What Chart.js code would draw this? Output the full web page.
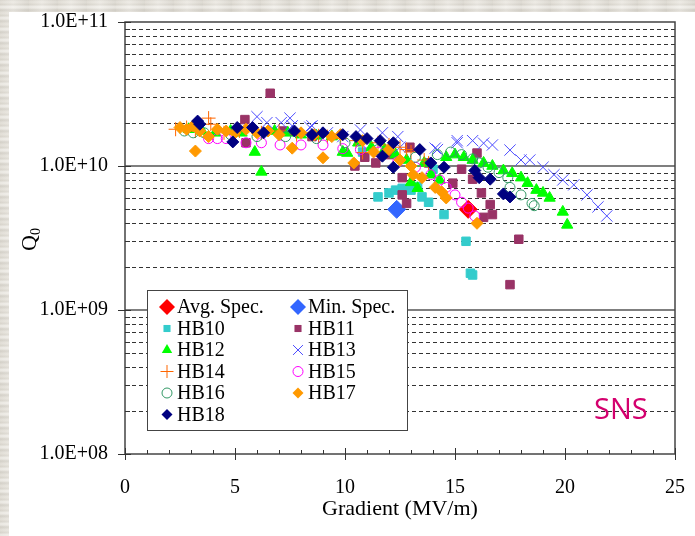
<!DOCTYPE html>
<html><head><meta charset="utf-8">
<script src="https://cdn.jsdelivr.net/npm/chart.js@4.4.0/dist/chart.umd.min.js"></script>
<style>
html,body{margin:0;padding:0;width:695px;height:536px;overflow:hidden;}
body{background:#e6e2d9;
background-image:
 repeating-linear-gradient(0deg, rgba(255,255,255,0.35) 0px, rgba(255,255,255,0.35) 2px, rgba(0,0,0,0.04) 3px, rgba(255,255,255,0.15) 6px, rgba(0,0,0,0.06) 9px, rgba(255,255,255,0.3) 11px),
 repeating-linear-gradient(90deg, rgba(0,0,0,0.03) 0px, rgba(255,255,255,0.25) 13px, rgba(0,0,0,0.05) 29px);}
#panel{position:absolute;left:9px;top:12px;right:0;bottom:0;background:#fff;}
#c{position:absolute;left:0;top:0;}
</style></head>
<body><div id="panel"></div><canvas id="c" width="695" height="536"></canvas>
<script>
// ---------- DATA (Gradient MV/m, Q0) ----------
const avgSpec = [[15.6, 5.0e9]];
const minSpec = [[12.35, 5.0e9]];
const hb10 = [[10.8,1.25e10],[11.5,6.1e9],[12.0,6.5e9],[12.3,6.8e9],[12.6,7.0e9],[13.0,6.8e9],[13.3,7.2e9],[13.5,6.1e9],[13.8,5.6e9],[14.0,9.5e9],[14.5,4.6e9],[15.5,3.0e9],[15.7,1.8e9],[15.8,1.75e9]];
const hb11 = [[5.45,2.1e10],[5.5,1.45e10],[6.6,3.2e10],[7.2,1.75e10],[8.5,1.6e10],[10.45,1.0e10],[10.9,1.15e10],[11.4,1.05e10],[12.0,1.2e10],[12.6,8.3e9],[12.6,6.3e9],[12.8,5.5e9],[12.95,1.35e10],[13.8,1.05e10],[14.9,7.6e9],[15.3,9.5e9],[15.8,8.1e9],[16.0,1.23e10],[16.2,6.5e9],[16.6,5.4e9],[16.7,4.6e9],[16.3,4.4e9],[17.9,3.1e9],[17.5,1.5e9]];
const hb12 = [[2.9,1.8e10],[3.5,1.75e10],[4.1,1.7e10],[4.8,1.75e10],[5.3,1.7e10],[5.9,1.25e10],[6.2,9.1e9],[6.8,1.75e10],[7.4,1.7e10],[8.0,1.65e10],[8.7,1.62e10],[9.4,1.6e10],[9.9,1.25e10],[10.1,1.23e10],[10.6,1.45e10],[11.2,1.35e10],[11.8,1.3e10],[12.3,1.2e10],[12.8,1.1e10],[13.0,7.7e9],[13.3,7.0e9],[13.6,1.05e10],[13.9,8.7e9],[14.3,8.0e9],[14.6,1.15e10],[15.0,1.2e10],[15.4,1.15e10],[15.8,1.1e10],[16.3,1.05e10],[16.7,1.0e10],[17.2,9.3e9],[17.6,8.9e9],[18.0,8.3e9],[18.3,7.6e9],[18.7,6.8e9],[19.0,6.5e9],[19.3,6.0e9],[19.9,4.8e9],[20.1,3.9e9]];
const hb13 = [[6.0,2.2e10],[6.45,2.0e10],[7.1,2.0e10],[7.5,2.15e10],[7.6,1.9e10],[8.4,1.86e10],[8.5,1.9e10],[9.2,1.7e10],[9.9,1.6e10],[10.7,1.78e10],[11.7,1.7e10],[12.4,1.6e10],[12.5,1.35e10],[14.1,1.33e10],[14.2,1.3e10],[15.1,1.5e10],[15.1,1.45e10],[15.8,1.5e10],[16.3,1.44e10],[16.7,1.4e10],[17.5,1.29e10],[18.0,1.1e10],[18.4,1.1e10],[19.0,9.8e9],[19.5,8.7e9],[19.9,8.0e9],[20.4,7.4e9],[21.0,6.3e9],[21.5,5.2e9],[21.9,4.5e9]];
const hb14 = [[2.3,1.8e10],[2.8,1.85e10],[3.2,1.75e10],[3.8,2.15e10],[3.9,1.95e10],[4.5,1.7e10],[5.2,1.75e10],[6.2,1.7e10],[7.0,1.75e10],[7.8,1.65e10],[8.8,1.62e10],[9.2,1.6e10],[9.8,1.55e10],[10.5,1.5e10],[10.8,1.24e10],[11.5,1.45e10],[12.0,1.4e10],[12.5,1.35e10],[12.8,1.3e10],[13.0,1.25e10],[13.6,1.1e10],[13.8,1.05e10]];
const hb15 = [[3.8,1.55e10],[4.2,1.55e10],[4.6,1.55e10],[5.5,1.45e10],[6.2,1.45e10],[7.05,1.4e10],[8.0,1.4e10],[9.0,1.4e10],[9.9,1.32e10],[10.7,1.3e10],[11.5,1.25e10],[12.4,1.07e10],[13.2,9.8e9],[13.9,8.7e9],[14.3,8.0e9],[14.6,7.1e9],[15.0,6.3e9],[15.3,5.6e9],[15.6,5.1e9],[15.9,4.5e9]];
const hb16 = [[2.7,1.75e10],[3.1,1.7e10],[3.6,1.7e10],[4.8,1.65e10],[6.0,1.6e10],[7.3,1.6e10],[8.7,1.55e10],[10.0,1.45e10],[11.5,1.3e10],[13.2,1.15e10],[14.2,1.2e10],[14.8,1.25e10],[15.3,1.2e10],[15.8,1.12e10],[16.1,1.05e10],[16.5,9.8e9],[17.0,9.0e9],[17.4,8.3e9],[17.5,7.1e9],[18.0,6.3e9],[18.5,5.5e9],[18.6,5.3e9]];
const hb17 = [[2.5,1.85e10],[2.8,1.8e10],[3.1,1.9e10],[3.2,1.27e10],[3.4,1.75e10],[3.8,1.6e10],[4.2,1.8e10],[4.6,1.75e10],[5.0,1.7e10],[5.5,1.8e10],[6.0,1.7e10],[6.5,1.75e10],[7.0,1.65e10],[7.6,1.33e10],[8.0,1.7e10],[8.6,1.65e10],[9.0,1.14e10],[9.4,1.6e10],[9.8,1.65e10],[10.4,1.05e10],[10.8,1.5e10],[11.3,1.25e10],[12.0,1.3e10],[12.5,1.1e10],[13.0,1.0e10],[13.1,8.7e9],[13.5,8.3e9],[14.1,7.1e9],[14.4,6.6e9],[14.6,6.0e9],[16.0,4.0e9]];
const hb18 = [[3.3,2.05e10],[3.4,1.95e10],[4.9,1.47e10],[5.1,1.85e10],[5.8,1.85e10],[6.3,1.7e10],[7.7,1.75e10],[8.5,1.65e10],[9.0,1.7e10],[9.9,1.65e10],[10.5,1.6e10],[11.0,1.55e10],[11.6,1.5e10],[12.2,1.45e10],[11.7,1.17e10],[12.2,9.8e9],[13.4,1.3e10],[13.9,1.05e10],[14.5,9.8e9],[15.9,9.3e9],[16.1,8.3e9],[16.6,8.1e9],[17.2,6.4e9],[17.5,6.1e9]];

const yTickValues = [1e8, 1e9, 1e10, 1e11];
const yTickLabels = ['1.0E+08', '1.0E+09', '1.0E+10', '1.0E+11'];
const xMin = 0, xMax = 25, xStep = 5;

const series = [
  {label:'Avg. Spec.', data:avgSpec, style:'rectRot', color:'#ff0000', r:9, lr:8, fill:true},
  {label:'Min. Spec.', data:minSpec, style:'rectRot', color:'#3366ff', r:9, lr:8, fill:true},
  {label:'HB10', data:hb10, style:'rect', color:'#33cccc', r:6, lr:5, fill:true},
  {label:'HB11', data:hb11, style:'rect', color:'#993366', r:6, lr:5, fill:true},
  {label:'HB12', data:hb12, style:'triangle', color:'#00ff00', r:6.5, lr:6, fill:true},
  {label:'HB13', data:hb13, style:'crossRot', color:'#4d4dff', r:8, lr:7, fill:false},
  {label:'HB14', data:hb14, style:'cross', color:'#ff6600', r:7, lr:6.5, fill:false},
  {label:'HB15', data:hb15, style:'circle', color:'#ff00ff', r:5, lr:5, fill:false},
  {label:'HB16', data:hb16, style:'circle', color:'#339966', r:5, lr:5, fill:false},
  {label:'HB17', data:hb17, style:'rectRot', color:'#ff9900', r:6, lr:5.5, fill:true},
  {label:'HB18', data:hb18, style:'rectRot', color:'#000080', r:6, lr:5.5, fill:true}
];

const serif = "'Liberation Serif','Times New Roman',serif";
const target = {left: 125, top: 22, right: 675, bottom: 454};

const yMinor = [];
for (let i = 0; i < yTickValues.length - 1; i++) for (let k = 2; k <= 9; k++) yMinor.push(k * yTickValues[i]);
const xMinor = [];
for (let v = xMin; v <= xMax; v += 1) xMinor.push(v);

function drawMarker(ctx, s, x, y, r) {
  ctx.save();
  ctx.fillStyle = s.color; ctx.strokeStyle = s.color; ctx.lineWidth = 1;
  ctx.beginPath();
  if (s.style === 'rectRot') { ctx.moveTo(x, y - r); ctx.lineTo(x + r, y); ctx.lineTo(x, y + r); ctx.lineTo(x - r, y); ctx.closePath(); ctx.fill(); }
  else if (s.style === 'rect') { const h = r * Math.SQRT1_2; ctx.rect(x - h, y - h, 2 * h, 2 * h); ctx.fill(); }
  else if (s.style === 'triangle') { ctx.moveTo(x, y - r); ctx.lineTo(x + r * 0.866, y + r * 0.5); ctx.lineTo(x - r * 0.866, y + r * 0.5); ctx.closePath(); ctx.fill(); }
  else if (s.style === 'crossRot') { const h = r * Math.SQRT1_2; ctx.moveTo(x - h, y - h); ctx.lineTo(x + h, y + h); ctx.moveTo(x + h, y - h); ctx.lineTo(x - h, y + h); ctx.stroke(); }
  else if (s.style === 'cross') { ctx.moveTo(x - r, y); ctx.lineTo(x + r, y); ctx.moveTo(x, y - r); ctx.lineTo(x, y + r); ctx.stroke(); }
  else if (s.style === 'circle') { ctx.arc(x, y, r, 0, Math.PI * 2); ctx.stroke(); }
  ctx.restore();
}

const framePlugin = {
  id: 'frame',
  beforeDatasetsDraw(chart) {
    const {ctx, chartArea: a, scales: {y}} = chart;
    ctx.save();
    ctx.strokeStyle = '#333'; ctx.lineWidth = 1; ctx.setLineDash([4, 3]);
    yMinor.forEach(v => { const py = Math.round(y.getPixelForValue(v)) + 0.5; ctx.beginPath(); ctx.moveTo(a.left, py); ctx.lineTo(a.right, py); ctx.stroke(); });
    ctx.setLineDash([]); ctx.strokeStyle = '#555'; ctx.lineWidth = 1.5;
    yTickValues.slice(1, -1).forEach(v => { const py = Math.round(y.getPixelForValue(v)); ctx.beginPath(); ctx.moveTo(a.left, py); ctx.lineTo(a.right, py); ctx.stroke(); });
    ctx.restore();
  },
  afterDatasetsDraw(chart) {
    const {ctx, chartArea: a, scales: {x, y}} = chart;
    ctx.save();
    ctx.strokeStyle = '#444'; ctx.lineWidth = 1.5;
    ctx.strokeRect(a.left, a.top, a.right - a.left, a.bottom - a.top);
    ctx.lineWidth = 1; ctx.strokeStyle = '#333';
    yTickValues.forEach(v => { const py = Math.round(y.getPixelForValue(v)) + 0.5; ctx.beginPath(); ctx.moveTo(a.left - 7, py); ctx.lineTo(a.left + 6, py); ctx.stroke(); });
    yMinor.forEach(v => { const py = Math.round(y.getPixelForValue(v)) + 0.5; ctx.beginPath(); ctx.moveTo(a.left, py); ctx.lineTo(a.left + 5, py); ctx.stroke(); });
    xMinor.forEach(v => {
      const px = Math.round(x.getPixelForValue(v)) + 0.5;
      const major = (v % xStep === 0);
      ctx.beginPath(); ctx.moveTo(px, a.bottom - (major ? 6 : 4)); ctx.lineTo(px, a.bottom + (major ? 6 : 0)); ctx.stroke();
    });
    ctx.fillStyle = '#000';
    ctx.font = '22px ' + serif; ctx.textAlign = 'center'; ctx.textBaseline = 'middle';
    ctx.fillText('Gradient (MV/m)', (a.left + a.right) / 2, 509);
    ctx.save();
    ctx.translate(29, 240); ctx.rotate(-Math.PI / 2);
    ctx.font = '22px ' + serif; ctx.textAlign = 'left'; ctx.textBaseline = 'alphabetic';
    const qw = ctx.measureText('Q').width;
    ctx.fillText('Q', -qw / 2 - 3, 7);
    ctx.font = '14px ' + serif;
    ctx.fillText('0', qw / 2 - 3, 11);
    ctx.restore();
    ctx.fillStyle = '#d4006e'; ctx.font = '500 29px "Open Sans", "Noto Sans", sans-serif';
    ctx.textAlign = 'left'; ctx.textBaseline = 'middle';
    ctx.fillText('SNS', 594, 411);
    const L = {x: 147, y: 290, w: 260, h: 140};
    ctx.fillStyle = '#fff'; ctx.fillRect(L.x, L.y, L.w, L.h);
    ctx.strokeStyle = '#444'; ctx.lineWidth = 1; ctx.strokeRect(L.x + 0.5, L.y + 0.5, L.w, L.h);
    ctx.font = '20px ' + serif; ctx.textBaseline = 'middle'; ctx.textAlign = 'left';
    series.forEach((s, i) => {
      const col = i % 2, row = Math.floor(i / 2);
      const mx = col === 0 ? 167 : 298, ty = 307 + row * 21.5;
      drawMarker(ctx, s, mx, ty, s.lr);
      ctx.fillStyle = '#000';
      ctx.fillText(s.label, mx + 10, ty + 1);
    });
    ctx.restore();
  }
};

const datasets = series.map((s, i) => ({
  label: s.label,
  data: s.data.map(p => ({x: p[0], y: p[1]})),
  pointStyle: s.style,
  pointRadius: s.r,
  pointHoverRadius: s.r,
  pointBackgroundColor: s.fill ? s.color : 'rgba(0,0,0,0)',
  pointBorderColor: s.color,
  pointBorderWidth: 1,
  showLine: false,
  order: series.length - i
}));

new Chart(document.getElementById('c'), {
  type: 'scatter',
  data: {datasets},
  options: {
    responsive: false, animation: false, devicePixelRatio: 1,
    layout: {autoPadding: false, padding: {left: 0, top: 22, right: 20, bottom: 0}},
    plugins: {legend: {display: false}, tooltip: {enabled: false}},
    scales: {
      x: {
        type: 'linear', min: xMin, max: xMax,
        ticks: {stepSize: xStep, color: '#000', font: {family: serif, size: 20}, padding: 22, maxRotation: 0},
        grid: {display: false, drawTicks: false}, border: {display: false},
        afterFit(s) { s.height = 536 - target.bottom; s.paddingLeft = 0; s.paddingRight = 0; }
      },
      y: {
        type: 'logarithmic', min: yTickValues[0], max: yTickValues[yTickValues.length - 1],
        afterBuildTicks(s) { s.ticks = yTickValues.map(v => ({value: v, major: true})); },
        ticks: {color: '#000', font: {family: serif, size: 20}, padding: 17, autoSkip: false,
          callback: (v) => { const i = yTickValues.indexOf(v); return i >= 0 ? yTickLabels[i] : ''; }},
        grid: {display: false, drawTicks: false}, border: {display: false},
        afterFit(s) { s.width = target.left; s.paddingTop = 0; s.paddingBottom = 0; }
      }
    }
  },
  plugins: [framePlugin]
});
</script></body></html>
